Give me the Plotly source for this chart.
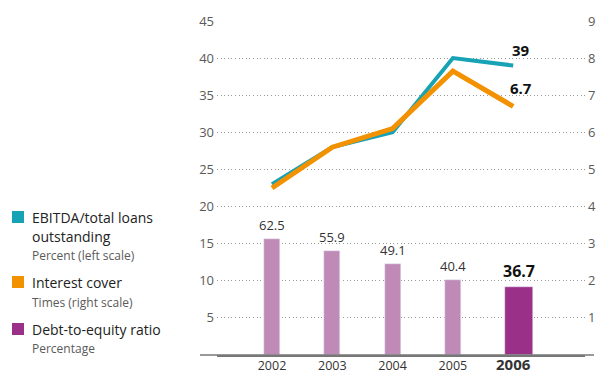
import plotly.graph_objects as go

years = [2002, 2003, 2004, 2005, 2006]
ebitda = [23, 28, 30, 40, 39]            # percent, left scale
interest_cover = [4.5, 5.6, 6.1, 7.65, 6.7]  # times, right scale
debt_equity = [62.5, 55.9, 49.1, 40.4, 36.7]  # percentage (bars)
bar_labels = ["62.5", "55.9", "49.1", "40.4", "<b>36.7</b>"]
left_ticks = [5, 10, 15, 20, 25, 30, 35, 40, 45]
right_ticks = [1, 2, 3, 4, 5, 6, 7, 8, 9]
tick_text = ["2002", "2003", "2004", "2005", "<b><span style='font-size:15px'>2006</span></b>"]

W, H = 602, 374
L, R, T, B = 217, 17, 21, 19
PW, PH = W - L - R, H - T - B
def px(x): return (x - L) / PW
def py(y): return (H - B - y) / PH

FONT = "Open Sans"
TEAL = "#17a2b5"
ORANGE = "#f39200"
BAR_LIGHT = "#c08ab6"
BAR_DARK = "#9b3088"
GREY = "#5a5a5a"

fig = go.Figure()

bar_colors = [BAR_LIGHT] * 4 + [BAR_DARK]
bar_widths = [0.265] * 4 + [0.46]
fig.add_trace(go.Bar(x=years, y=debt_equity, yaxis="y3", marker_color=bar_colors,
                     width=bar_widths, offset=[-0.133] * 5, showlegend=False,
                     hoverinfo="skip"))
fig.add_trace(go.Scatter(x=years, y=ebitda, mode="lines", yaxis="y",
                         line=dict(color=TEAL, width=4), showlegend=False))
fig.add_trace(go.Scatter(x=years, y=interest_cover, mode="lines", yaxis="y2",
                         line=dict(color=ORANGE, width=5), showlegend=False))

ann = []
for yr, v, t in zip(years, debt_equity, bar_labels):
    big = t.startswith("<b>")
    ann.append(dict(x=yr + (0.1 if big else 0), y=v, xref="x", yref="y3", text=t,
                    showarrow=False, yanchor="bottom", yshift=3,
                    font=dict(family=FONT, size=16 if big else 13, color="#111" if big else "#333")))
ann.append(dict(x=years[-1], y=ebitda[-1], xref="x", yref="y", text="<b>39</b>",
                showarrow=False, yanchor="bottom", yshift=4, xshift=8,
                font=dict(family=FONT, size=15, color="#111")))
ann.append(dict(x=years[-1], y=interest_cover[-1], xref="x", yref="y2", text="<b>6.7</b>",
                showarrow=False, yanchor="bottom", yshift=6, xshift=8,
                font=dict(family=FONT, size=15, color="#111")))

legend_items = [
    (TEAL, 217, ["EBITDA/total loans", "outstanding"], 236, "Percent (left scale)", 255),
    (ORANGE, 282, ["Interest cover"], None, "Times (right scale)", 302),
    ("#9b3088", 329, ["Debt-to-equity ratio"], None, "Percentage", 348),
]
shapes = []
for col, yc, lines, y2, sub, ys in legend_items:
    shapes.append(dict(type="rect", xref="paper", yref="paper",
                       x0=px(12), x1=px(24), y0=py(yc + 6), y1=py(yc - 6),
                       fillcolor=col, line=dict(width=0)))
    ann.append(dict(x=px(30), y=py(yc), xref="paper", yref="paper", text=lines[0],
                    showarrow=False, xanchor="left", yanchor="middle",
                    font=dict(family=FONT, size=14, color="#222")))
    if len(lines) > 1:
        ann.append(dict(x=px(30), y=py(y2), xref="paper", yref="paper", text=lines[1],
                        showarrow=False, xanchor="left", yanchor="middle",
                        font=dict(family=FONT, size=14, color="#222")))
    ann.append(dict(x=px(30), y=py(ys), xref="paper", yref="paper", text=sub,
                    showarrow=False, xanchor="left", yanchor="middle",
                    font=dict(family=FONT, size=12, color=GREY)))

# baseline
shapes.append(dict(type="line", xref="paper", yref="paper", x0=px(200), x1=px(594),
                   y0=0, y1=0, layer="above", line=dict(color="#777", width=1.5)))

x0 = 2002 - (272 - L) / 60.3
fig.update_layout(
    width=W, height=H, margin=dict(l=L, r=R, t=T, b=B, autoexpand=False),
    paper_bgcolor="white", plot_bgcolor="white",
    font=dict(family=FONT, color=GREY),
    xaxis=dict(range=[x0, x0 + PW / 60.3], tickvals=years, ticktext=tick_text,
               showgrid=False, zeroline=False, showline=True, linecolor="#777", linewidth=1.5,
               ticks="", automargin=False,
               tickfont=dict(family=FONT, size=12.5, color="#333"), ticklabelstandoff=-2),
    yaxis=dict(range=[0, 45], tickvals=left_ticks, showgrid=True, gridcolor="#999",
               griddash="1px,2.6px", gridwidth=1, zeroline=False, showline=False, ticks="",
               automargin=False,
               tickfont=dict(family=FONT, size=13, color=GREY), ticklabelstandoff=2),
    yaxis2=dict(range=[0, 9], tickvals=right_ticks, overlaying="y", side="right",
                showgrid=False, zeroline=False, showline=False, ticks="", automargin=False,
                tickfont=dict(family=FONT, size=13, color=GREY), ticklabelstandoff=2),
    yaxis3=dict(range=[0, 180], overlaying="y", visible=False),
    annotations=ann, shapes=shapes, bargap=0,
)
fig.write_html("out.html")
